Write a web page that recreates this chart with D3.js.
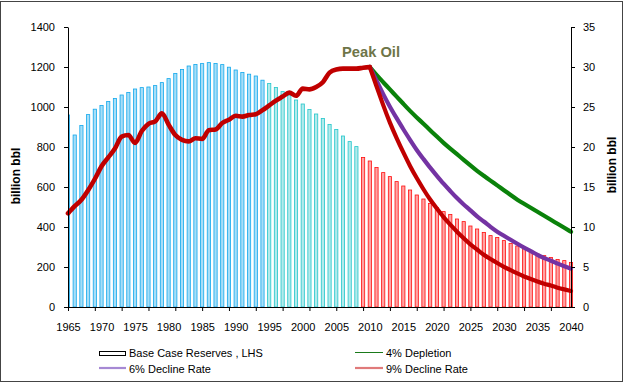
<!DOCTYPE html>
<html>
<head>
<meta charset="utf-8">
<script src="https://cdn.jsdelivr.net/npm/d3@7"></script>
<style>
  body { margin: 0; background: #fff; }
  svg { display: block; font-family: "Liberation Sans", Arial, sans-serif; }
</style>
</head>
<body>
<svg id="chart" width="626" height="384"></svg>
<script>
// ---------- DATA ----------
const firstYear = 1965, lastYear = 2040;
const years = d3.range(firstYear, lastYear + 1);
const xLabelYears = [1965,1970,1975,1980,1985,1990,1995,2000,2005,2010,2015,2020,2025,2030,2035,2040];
const xTickYears = [1965,1969,1973,1977,1981,1985,1989,1993,1997,2001,2005,2009,2013,2017,2021,2025,2029,2033,2037];
const leftTicks = [0,200,400,600,800,1000,1200,1400];
const rightTicks = [0,5,10,15,20,25,30,35];

// Base case reserves (LHS, billion bbl), 1965..2040
const reserves = [960,860,908,962,989,1008,1028,1043,1060,1073,
  1090,1097,1100,1107,1122,1142,1168,1188,1205,1213,
  1217,1222,1218,1212,1199,1185,1173,1164,1155,1134,
  1118,1098,1077,1060,1035,1015,988,965,943,913,
  888,855,827,802,748,730,698,672,652,627,
  605,585,560,540,518,497,477,463,440,427,
  405,390,373,357,348,332,318,305,293,282,
  265,257,248,238,232,223];

// Historical production (RHS, billion bbl/yr), 1965..2010
const histYears = d3.range(1965, 2011);
const production = [11.7,12.6,13.4,14.6,16.0,17.6,18.7,19.8,21.3,21.5,
  20.5,22.0,22.9,23.2,24.2,22.8,21.5,20.9,20.7,21.1,
  21.0,22.1,22.2,23.0,23.4,23.9,23.8,24.0,24.1,24.6,
  25.2,25.8,26.3,26.8,26.4,27.3,27.2,27.5,28.1,29.3,
  29.7,29.8,29.8,29.8,29.9,30.0];

// Forecasts (RHS), 2010..2040
const fcYears = d3.range(2010, 2041);
const depletion4 = [30.0,29.0,28.1,27.2,26.3,25.4,24.5,23.7,22.9,22.1,
  21.3,20.5,19.8,19.1,18.4,17.7,17.0,16.4,15.8,15.2,
  14.6,14.0,13.4,12.9,12.4,11.9,11.4,10.9,10.4,9.9,9.4];
const decline6 = [30.0,28.3,26.6,25.0,23.6,22.2,20.9,19.6,18.5,17.4,
  16.4,15.4,14.5,13.6,12.8,12.1,11.3,10.7,10.0,9.4,
  8.9,8.4,7.9,7.4,7.0,6.5,6.1,5.8,5.4,5.1,4.8];
const decline9 = [30.0,27.6,25.2,23.0,21.1,19.3,17.6,16.1,14.7,13.4,
  12.3,11.2,10.3,9.4,8.6,7.8,7.2,6.5,6.0,5.5,
  5.0,4.6,4.2,3.8,3.5,3.2,2.9,2.7,2.4,2.2,2.0];

const legendLabels = ["Base Case Reserves , LHS", "4% Depletion", "6% Decline Rate", "9% Decline Rate"];
const annotation = "Peak Oil";
const axisTitle = "billion bbl";

// ---------- DRAW ----------
const svg = d3.select("#chart");
svg.append("rect").attr("x",0.5).attr("y",1.5).attr("width",622).attr("height",380)
  .attr("fill","#fff").attr("stroke","#444").attr("stroke-width",1);

const x = d3.scaleLinear().domain([firstYear, lastYear]).range([68, 571]);
const yL = d3.scaleLinear().domain([0, 1400]).range([307, 27]);
const yR = d3.scaleLinear().domain([0, 35]).range([307, 27]);

function barColors(yr) {
  if (yr <= 1994) return {fill:"#a6def8", stroke:"#12a8ec"};
  if (yr <= 2008) return {fill:"#b2eaec", stroke:"#22c6ca"};
  return {fill:"#ffa3a3", stroke:"#ff1010"};
}

const bw = 3.2;
svg.append("defs").append("clipPath").attr("id","clipL")
  .append("rect").attr("x",68).attr("y",0).attr("width",520).attr("height",384);

svg.append("g").attr("clip-path","url(#clipL)")
  .selectAll("rect").data(years).join("rect")
  .attr("x", d => x(d) - bw/2)
  .attr("y", (d,i) => yL(reserves[i]))
  .attr("width", bw)
  .attr("height", (d,i) => yL(0) - yL(reserves[i]))
  .attr("fill", d => barColors(d).fill)
  .attr("stroke", d => barColors(d).stroke)
  .attr("stroke-width", 0.8);

const lineHist = d3.line().curve(d3.curveMonotoneX);
const lineFc = d3.line().curve(d3.curveBasis);
function drawSeries(gen, xs, vals, color, w) {
  svg.append("path")
    .attr("d", gen(xs.map((yr,i) => [x(yr), yR(vals[i])])))
    .attr("fill","none").attr("stroke",color).attr("stroke-width",w)
    .attr("stroke-linejoin","round").attr("stroke-linecap","round");
}
drawSeries(lineFc, fcYears, depletion4, "#0a820a", 4.2);
drawSeries(lineFc, fcYears, decline6, "#7433a3", 4.2);
drawSeries(lineFc, fcYears, decline9, "#c00000", 4.2);
drawSeries(lineHist, histYears, production, "#c00000", 4.6);

// Axes
const axL = svg.append("g").attr("transform","translate(68,0)")
  .call(d3.axisLeft(yL).tickValues(leftTicks).tickSize(4).tickPadding(9).tickSizeOuter(0).tickFormat(d3.format("d")));
const axR = svg.append("g").attr("transform","translate(571,0)")
  .call(d3.axisRight(yR).tickValues(rightTicks).tickSize(4).tickPadding(8).tickSizeOuter(0).tickFormat(d3.format("d")));
const axB = svg.append("g").attr("transform","translate(0,307)")
  .call(d3.axisBottom(x).tickValues(xTickYears).tickSize(4).tickFormat("").tickSizeOuter(0));
const axBL = svg.append("g").attr("transform","translate(0,307)")
  .call(d3.axisBottom(x).tickValues(xLabelYears).tickSize(0).tickPadding(16).tickFormat(d3.format("d")));
axBL.select(".domain").remove();

[axL, axR, axB, axBL].forEach(g => {
  g.selectAll("text").attr("font-size", 11).attr("fill","#000")
    .attr("font-family","'Liberation Sans', Arial, sans-serif");
  g.selectAll("line").attr("stroke","#000");
  g.select(".domain").attr("stroke","#000");
});

// Axis titles
svg.append("text").attr("transform","translate(20,176) rotate(-90)")
  .attr("text-anchor","middle").attr("font-size",12).attr("font-weight","bold")
  .text(axisTitle);
svg.append("text").attr("transform","translate(616,165) rotate(-90)")
  .attr("text-anchor","middle").attr("font-size",12).attr("font-weight","bold")
  .text(axisTitle);

// Annotation
svg.append("text").attr("x", 371).attr("y", 57).attr("text-anchor","middle")
  .attr("font-size",14.7).attr("font-weight","bold").attr("fill","#6e7548")
  .text(annotation);

// Legend
const lg = svg.append("g").attr("font-size",11);
lg.append("rect").attr("x",99.5).attr("y",351.5).attr("width",26).attr("height",4)
  .attr("fill","#fff").attr("stroke","#000");
lg.append("text").attr("x",129).attr("y",357).text(legendLabels[0]);
lg.append("line").attr("x1",355).attr("x2",383).attr("y1",352.5).attr("y2",352.5)
  .attr("stroke","#1a7a1a").attr("stroke-width",1);
lg.append("text").attr("x",386).attr("y",357).text(legendLabels[1]);
lg.append("line").attr("x1",99).attr("x2",126).attr("y1",368).attr("y2",368)
  .attr("stroke","#a689d4").attr("stroke-width",2.2);
lg.append("text").attr("x",129).attr("y",373).text(legendLabels[2]);
lg.append("line").attr("x1",355).attr("x2",383).attr("y1",368).attr("y2",368)
  .attr("stroke","#e07a7a").attr("stroke-width",2.2);
lg.append("text").attr("x",386).attr("y",373).text(legendLabels[3]);
</script>
</body>
</html>
